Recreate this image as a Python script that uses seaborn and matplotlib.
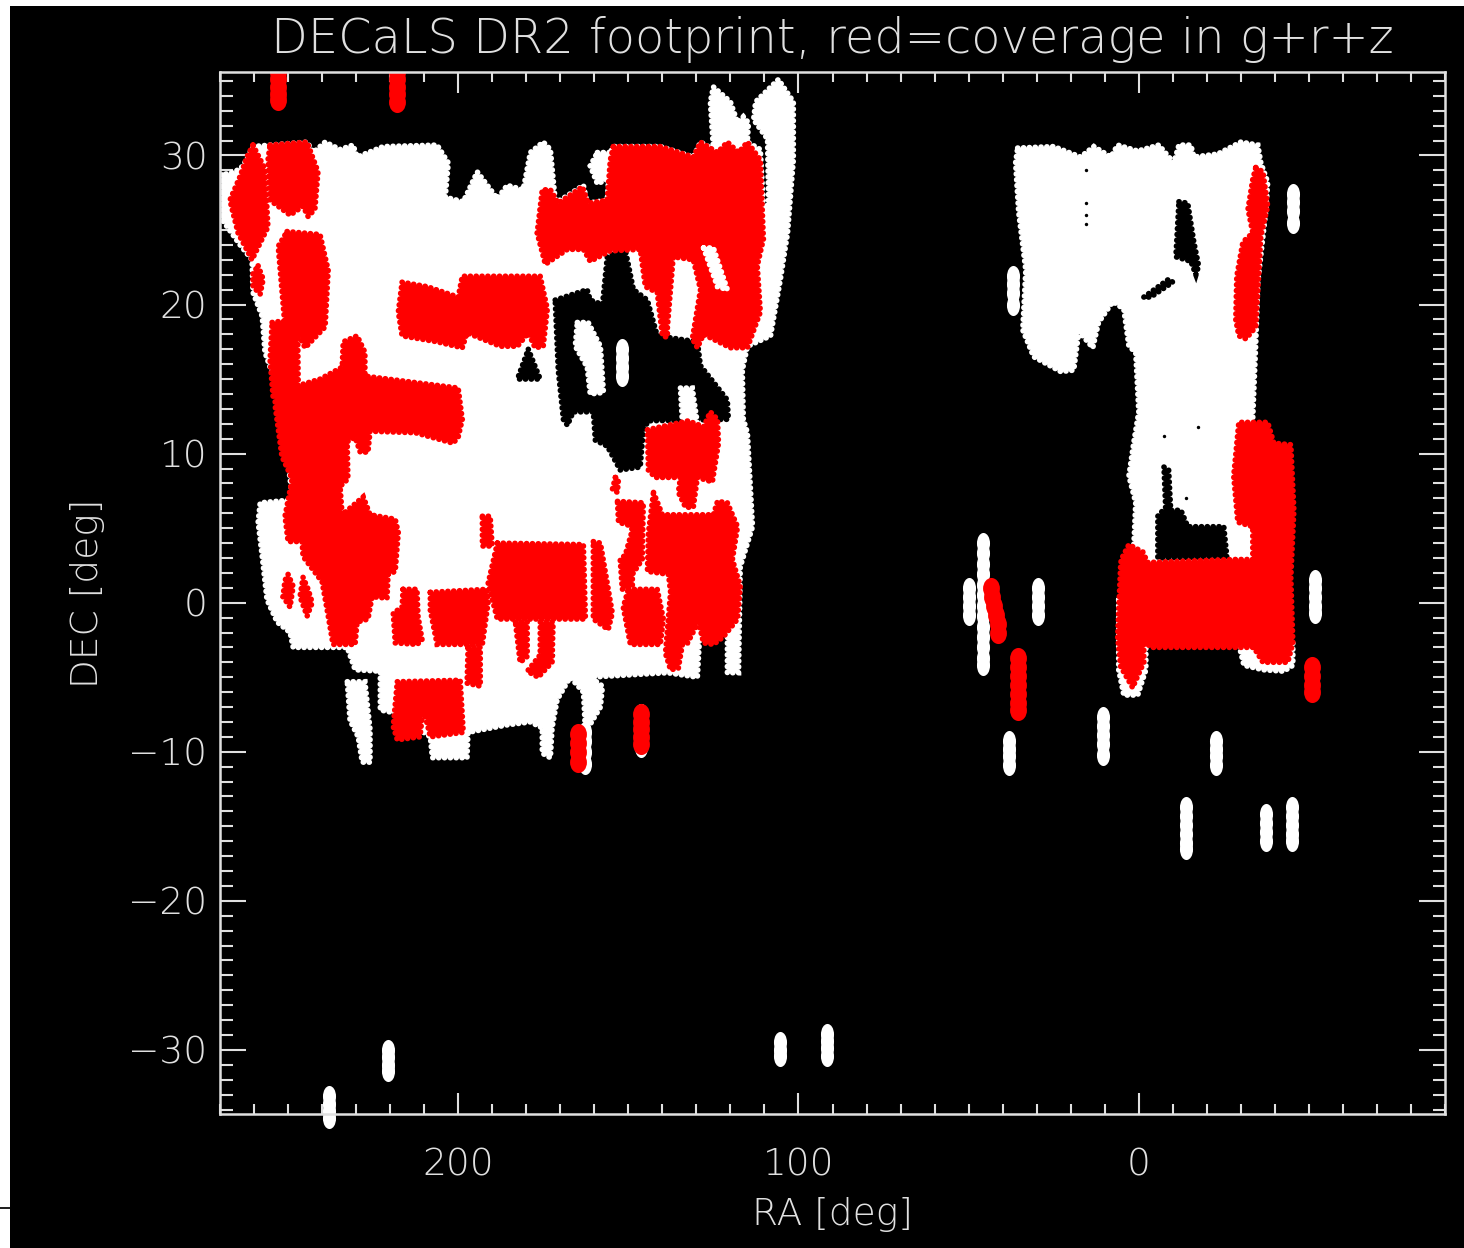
import matplotlib
matplotlib.use("Agg")
import matplotlib.pyplot as plt
import seaborn as sns
from matplotlib.patches import Rectangle
from matplotlib.path import Path
from matplotlib.transforms import Affine2D
from matplotlib.ticker import MultipleLocator

# ---------- footprint outlines: (RA, DEC) in degrees ----------
white_main = [(269.4,28.7),(269.4,25.7),(264.1,24.0),(260.6,23.0),(260.3,20.8),(257.6,19.2),(256.8,16.8),(254.4,15.2),
 (252.4,13.6),(249.4,8.3),(248.8,6.9),(258.2,6.7),(258.8,5.4),(257.6,3.1),(256.2,0.2),(253.2,-1.3),(249.4,-2.0),(248.5,-3.0),
 (232.6,-3.0),(230.3,-4.5),(222.9,-4.6),(222.9,-7.2),(218.5,-7.4),(208.2,-9.0),(207.6,-10.4),(197.4,-10.4),(197.1,-8.7),
 (185.6,-8.2),(178.8,-8.0),(175.3,-8.4),(175.3,-10.1),(172.9,-10.4),(172.4,-8.4),(170.9,-6.5),(167.1,-5.0),(163.2,-6.0),
 (162.6,-8.7),(158.2,-7.0),(157.6,-5.6),(161.2,-5.0),(138.5,-4.7),(129.7,-5.0),(128.8,-1.3),(120.9,-1.1),(120.9,-4.7),
 (117.6,-4.7),(117.1,2.4),(113.5,5.1),(115.0,11.4),(116.2,12.3),(116.5,15.6),(115.0,17.2),(108.2,17.9),(105.3,21.7),
 (103.2,24.8),(101.5,29.7),(101.5,33.6),(105.9,35.1),(112.6,33.6),(113.2,32.4),(109.1,31.1),(108.8,26.7),(110.3,26.5),
 (111.2,30.4),(115.0,30.9),(114.7,32.2),(116.2,32.6),(117.9,32.2),(120.0,33.6),(125.0,34.6),(125.9,33.6),(125.0,30.4),
 (128.8,30.9),(130.9,29.9),(140.6,30.6),(154.4,30.6),(155.3,30.2),(156.2,27.0),(162.1,26.8),(163.2,28.0),(170.0,27.0),
 (171.5,27.0),(172.9,30.4),(175.0,30.9),(178.8,30.2),(180.9,27.7),(185.6,28.0),(188.5,27.1),(194.4,28.9),(198.5,26.9),
 (203.8,27.2),(202.9,29.5),(206.2,30.7),(222.0,30.6),(229.7,29.9),(230.9,30.7),(234.7,30.4),(239.1,30.9),(242.6,30.2),
 (244.4,30.9),(255.3,30.7),(260.3,30.6),(263.2,29.3),(265.6,28.9)]
white_east = [(35.6,30.5),(25.0,30.6),(17.1,29.9),(13.2,30.6),(8.2,29.9),(6.2,30.7),(0.3,30.3),(-5.9,30.7),(-10.3,29.5),
 (-11.8,30.7),(-15.3,30.7),(-16.2,29.9),(-23.2,30.1),(-30.0,30.9),(-35.0,30.7),(-35.9,29.5),(-37.9,28.2),(-37.4,26.4),
 (-35.0,21.5),(-34.4,17.4),(-33.5,12.3),(-33.5,2.2),(1.5,2.2),(1.5,3.6),(0.9,6.7),(2.9,8.5),(1.5,10.7),(0.0,12.8),(0.9,16.8),
 (2.9,17.2),(4.4,19.7),(7.6,20.2),(11.8,18.8),(13.5,17.1),(17.6,18.2),(19.1,15.6),(22.9,15.5),(30.9,16.5),(34.1,18.3),
 (33.2,22.3),(35.3,26.2),(36.2,29.5)]
white_lobe_a = [(5.9,0.2),(-2.1,0.2),(-2.1,-4.5),(0.3,-6.2),(4.4,-6.2),(5.9,-4.5)]
white_lobe_b = [(-29.1,-2.5),(-45.3,-2.5),(-45.3,-4.2),(-42.6,-4.6),(-36.5,-4.5),(-30.9,-4.2)]
white_lobe_c = [(232.6,-5.3),(227.4,-5.3),(225.9,-8.5),(225.9,-10.7),(228.2,-10.7),(229.4,-9.0),(231.8,-7.9)]

hole_central = [(171.5,20.3),(162.1,21.0),(161.2,20.3),(157.6,20.0),(156.2,23.2),(150.9,23.7),(148.5,21.0),(144.4,20.3),
 (141.5,17.9),(129.7,17.5),(128.8,15.9),(125.0,14.8),(120.9,13.6),(120.6,12.3),(144.1,12.2),(145.6,11.6),(146.5,9.1),
 (152.4,8.9),(156.2,10.5),(159.7,10.9),(160.3,12.8),(166.2,12.8),(167.9,11.9),(169.1,12.3),(170.6,15.6)]
hole_triangle = [(179.4,17.0),(175.9,15.0),(182.6,15.0)]
hole_east_low = [(-7.4,9.1),(-8.8,8.9),(-9.4,6.2),(-12.4,6.2),(-14.4,5.1),(-25.0,5.1),(-25.9,3.1),(-5.6,3.0),(-5.6,5.8),(-7.9,6.4)]
hole_east_slit = [(-11.8,26.9),(-14.4,26.8),(-16.2,24.2),(-17.6,22.6),(-16.8,22.0),(-15.3,22.9),(-10.9,23.2)]
hole_east_sliver = [(-1.5,20.5),(-8.8,21.7),(-10.0,21.5),(-3.5,20.5)]

island_a = [(165.0,18.8),(161.8,18.8),(158.2,17.2),(157.3,14.1),(161.2,14.0),(162.1,15.8),(165.6,17.2)]
island_b = [(134.7,14.4),(131.2,14.4),(129.7,12.0),(134.1,12.0)]
island_c = [(159.1,30.2),(155.3,30.2),(156.2,28.4),(159.1,28.1),(161.2,29.3)]

red_01 = [(260.3,30.7),(256.8,29.1),(255.9,25.2),(260.6,23.0),(264.7,24.8),(267.1,27.0),(264.1,28.6),(262.1,29.9)]
red_02 = [(255.3,30.7),(244.4,30.9),(241.2,28.9),(242.1,26.4),(244.1,25.9),(245.6,26.6),(249.4,26.0),(255.3,27.0),(255.9,29.7)]
red_03 = [(250.3,24.9),(240.6,24.7),(238.2,22.3),(239.1,18.5),(245.0,17.1),(247.1,18.1),(250.9,18.5),(252.9,23.9)]
red_04 = [(258.8,22.6),(257.3,21.7),(258.2,20.7),(260.3,21.2),(260.3,22.1)]
red_05 = [(254.7,18.8),(251.5,18.9),(247.1,17.9),(247.1,16.8),(247.0,14.5),(254.4,13.8),(255.3,16.3)]
red_06 = [(253.8,14.1),(240.6,15.0),(234.1,15.8),(233.8,17.5),(229.7,17.9),(227.4,16.8),(227.4,15.2),(200.0,14.4),(198.8,12.3),
 (200.0,11.1),(201.5,10.7),(212.6,11.4),(225.9,11.5),(226.5,10.1),(228.8,10.1),(230.3,11.1),(232.6,10.8),(232.4,8.3),(234.7,7.8),
 (234.1,5.9),(227.9,7.1),(225.9,5.9),(218.5,5.6),(217.6,4.7),(218.5,2.1),(220.6,1.9),(220.9,0.3),(225.3,0.4),(226.5,-1.1),
 (229.7,-1.3),(230.3,-2.8),(236.8,-2.8),(238.2,-0.9),(240.0,1.4),(245.6,3.1),(245.9,4.1),(250.0,4.1),(250.9,5.8),(248.8,8.3),
 (251.8,9.8),(253.8,13.2)]
red_07 = [(250.0,1.9),(248.5,1.1),(249.4,-0.3),(251.5,0.4),(250.9,1.5)]
red_08 = [(245.6,1.7),(244.1,0.9),(242.9,0.0),(244.4,-0.9),(246.5,0.4)]
red_09 = [(216.2,0.9),(212.1,0.9),(211.8,-0.9),(210.6,-2.5),(212.1,-2.8),(218.5,-2.7),(219.1,-0.7),(216.5,-0.3)]
red_10 = [(208.2,0.7),(191.5,0.9),(191.2,0.0),(192.9,-2.8),(206.2,-2.8),(208.2,-0.5)]
red_11 = [(188.5,4.0),(163.2,3.9),(162.6,-1.1),(188.5,-1.1),(191.2,1.3)]
red_12 = [(192.9,5.8),(190.6,5.8),(190.0,3.8),(192.9,3.8)]
red_13 = [(183.2,-1.3),(179.7,-1.3),(179.7,-3.6),(181.8,-4.0)]
red_14 = [(175.9,-1.3),(172.1,-1.3),(172.4,-4.0),(176.5,-5.0),(179.7,-4.6),(175.9,-3.5)]
red_15 = [(197.1,-3.0),(193.5,-3.0),(193.5,-5.6),(197.4,-5.4)]
red_16 = [(217.9,-5.3),(199.4,-5.2),(198.5,-8.7),(208.2,-9.0),(210.3,-7.0),(211.2,-9.0),(217.9,-9.2),(219.1,-8.3)]
red_17 = [(160.3,4.1),(158.2,4.0),(154.7,-0.7),(155.9,-1.8),(160.3,-1.1)]
red_18 = [(153.8,8.4),(152.9,8.3),(153.2,7.4),(154.7,7.6)]
red_19 = [(153.2,6.8),(145.6,6.7),(145.9,2.9),(148.8,1.9),(148.8,1.1),(151.8,0.9),(152.4,2.9),(150.9,3.2),(148.8,4.9),(150.0,5.2),(152.9,5.4)]
red_20 = [(150.0,0.9),(141.5,0.9),(139.7,-1.1),(140.6,-2.8),(149.4,-2.8),(151.5,-0.3)]
red_21 = [(142.6,7.4),(140.0,5.9),(125.0,5.9),(123.8,6.8),(120.9,6.7),(117.9,5.1),(119.4,2.9),(117.1,1.1),(117.9,-1.1),(122.1,-2.3),
 (125.0,-2.8),(127.9,-2.7),(129.4,-1.3),(132.6,-2.7),(134.1,-2.8),(135.3,-4.4),(137.6,-4.5),(139.1,-3.4),(137.6,0.7),(138.2,1.9),
 (144.4,2.1),(144.1,4.7)]
red_22 = [(144.4,11.6),(132.4,12.2),(127.9,11.8),(125.9,12.8),(123.8,12.3),(123.5,10.7),(125.3,8.1),(129.7,8.4),(130.9,6.4),(133.2,6.4),
 (135.3,7.4),(134.7,8.4),(142.1,8.4),(144.1,8.9)]
red_23 = [(154.4,30.6),(140.6,30.6),(130.9,29.9),(128.8,30.9),(123.8,30.2),(120.9,30.9),(117.6,30.2),(115.0,30.9),(111.2,29.7),(110.3,24.4),
 (112.1,22.6),(111.2,19.5),(115.0,17.1),(120.0,17.1),(127.9,18.0),(129.7,17.1),(131.2,17.7),(128.8,21.0),(130.9,23.0),(136.8,23.2),
 (138.5,18.5),(138.5,17.8),(140.0,17.9),(141.5,20.8),(145.0,21.2),(146.5,23.7),(155.3,23.6),(161.2,22.9),(163.2,23.7),(167.9,23.7),
 (174.4,22.7),(176.8,24.8),(175.3,27.7),(172.9,27.7),(170.6,26.8),(163.5,27.9),(161.8,26.8),(156.2,27.0),(155.3,29.7)]
red_24 = [(216.5,21.5),(209.1,21.2),(200.0,20.5),(198.8,21.9),(185.3,21.9),(175.9,21.9),(173.8,19.7),(175.0,17.2),(177.4,17.1),(179.4,18.1),
 (182.6,17.2),(187.6,17.2),(197.4,18.1),(198.8,17.1),(206.2,17.5),(216.5,17.9),(217.6,19.5)]
red_east_a = [(-34.4,29.2),(-36.5,28.9),(-37.9,26.6),(-35.9,24.6),(-34.4,18.5),(-31.5,17.7),(-29.4,17.9),(-28.5,19.0),(-28.8,21.9),
 (-30.6,24.2),(-33.5,24.8),(-32.1,26.4),(-33.5,28.4)]
red_east_b = [(4.7,3.1),(2.9,3.9),(-1.2,3.4),(-2.6,2.7),(-27.9,2.9),(-33.5,2.9),(-33.5,5.1),(-29.1,5.4),(-27.9,8.5),(-29.4,12.1),(-37.9,12.1),
 (-39.7,10.7),(-44.7,10.6),(-45.6,6.2),(-44.7,1.7),(-45.3,-2.7),(-43.8,-4.0),(-36.5,-4.0),(-33.8,-3.0),(-3.5,-3.0),(-1.5,-2.5),(-1.5,-4.0),
 (1.8,-5.7),(5.3,-4.3),(6.2,-2.3),(5.3,2.7)]
white_streak = [(127.9,23.8),(125.0,23.8),(120.9,21.0),(123.8,21.2)]

white_regions = [white_main, white_east, white_lobe_a, white_lobe_b, white_lobe_c]
hole_regions = [hole_central, hole_triangle, hole_east_low, hole_east_slit, hole_east_sliver]
island_regions = [island_a, island_b, island_c]
red_regions = [red_01, red_02, red_03, red_04, red_05, red_06, red_07, red_08, red_09, red_10, red_11, red_12, red_13, red_14,
               red_15, red_16, red_17, red_18, red_19, red_20, red_21, red_22, red_23, red_24, red_east_a, red_east_b]

# ---------- isolated exposures ----------
white_tile_ra = [220.6]*4 + [238.0]*4 + [105.3]*3 + [91.5]*4 + [50.0]*4 + [29.7]*4 + [45.9]*13 + [38.2]*4 + [10.6]*5 + [-22.6]*4 \
    + [-13.8]*6 + [-37.4]*4 + [-45.0]*5 + [-51.8]*5 + [-45.3]*4 + [37.0]*4 + [151.8]*4 + [162.6]*4 + [146.2]*5
white_tile_dec = [-30,-30.5,-31,-31.4, -33.1,-33.6,-34.1,-34.6, -29.5,-30,-30.4, -28.9,-29.4,-29.9,-30.4, 1.0,0.4,-0.2,-0.8, 1.0,0.4,-0.2,-0.8,
    4.0,3.3,2.6,1.9,1.2,0.5,-0.2,-0.9,-1.6,-2.3,-3.0,-3.7,-4.2, -9.3,-9.8,-10.3,-10.9, -7.7,-8.3,-8.9,-9.5,-10.2, -9.3,-9.8,-10.3,-10.9,
    -13.7,-14.3,-14.9,-15.5,-16.1,-16.5, -14.2,-14.8,-15.4,-16.0, -13.7,-14.3,-14.9,-15.5,-16.0, 1.5,1.0,0.4,-0.2,-0.7,
    27.4,26.9,26.3,25.5, 21.9,21.4,20.8,20.0, 17.0,16.4,15.8,15.2, -8.7,-9.3,-10.0,-10.8, -7.5,-8.0,-8.5,-9.0,-9.7]
red_tile_ra = [253.0]*5 + [218.0]*5 + [43.5,43.0,42.5,42.0,41.5,41.3] + [35.6]*7 + [-50.9]*4 + [146.2]*5 + [164.7]*4
red_tile_dec = [35.6,35.1,34.6,34.1,33.7, 35.6,35.1,34.6,34.1,33.6, 1.0,0.4,-0.2,-0.8,-1.4,-2.0, -3.7,-4.3,-4.9,-5.5,-6.1,-6.7,-7.2,
    -4.3,-4.9,-5.5,-6.0, -7.5,-8.0,-8.5,-9.0,-9.5, -8.8,-9.4,-10.0,-10.7]
speck_ra = [-7.4, -17.4, 15.6, 15.6, 15.6, 15.6, -7.9, -14.0, 172.0, 131.0, 154.0]
speck_dec = [11.2, 11.8, 29.0, 26.8, 26.0, 25.4, 7.5, 7.0, -3.5, 8.0, 8.0]

x_major = [200, 100, 0]
y_major = [-30, -20, -10, 0, 10, 20, 30]
title_text = "DECaLS DR2 footprint, red=coverage in g+r+z"
x_text = "RA [deg]"
y_text = "DEC [deg]"

# ---------- figure ----------
sns.set_theme(style="dark", rc={"axes.facecolor": "black", "figure.facecolor": "black"})
plt.rcParams["font.family"] = ["DejaVu Sans"]
INK = "#e0e0e0"
W, H = 1464, 1248
fig = plt.figure(figsize=(W / 100, H / 100), dpi=100, facecolor="black")
ax = fig.add_axes([220 / W, 1 - 1114 / H, (1445 - 220) / W, (1114 - 72) / H])
ax.set_facecolor("black")

white_marker = Path.unit_circle().transformed(Affine2D().scale(0.62, 1.0))
red_marker = Path.unit_circle().transformed(Affine2D().scale(0.8, 1.0))


def draw(regions, color, z):
    for reg in regions:
        ras = [p[0] for p in reg]
        decs = [p[1] for p in reg]
        ax.fill(ras, decs, facecolor=color, edgecolor="none", zorder=z)
        ax.fill(ras, decs, facecolor="none", edgecolor=color, linewidth=4.0,
                linestyle=(0, (0.05, 1.0)), capstyle="round", zorder=z)


draw(white_regions, "white", 2)
draw(hole_regions, "black", 3)
draw(island_regions, "white", 4)
sns.scatterplot(x=white_tile_ra, y=white_tile_dec, color="white", s=230, marker=white_marker, linewidth=0,
                ax=ax, zorder=4, legend=False, clip_on=False)
sns.scatterplot(x=speck_ra, y=speck_dec, color="black", s=6, linewidth=0, ax=ax, zorder=4.5, legend=False)
draw(red_regions, "#ff0000", 5)
sns.scatterplot(x=red_tile_ra, y=red_tile_dec, color="#ff0000", s=230, marker=red_marker, linewidth=0, ax=ax, zorder=5, legend=False)
draw([white_streak], "white", 6)

ax.set_xlim(270, -90)
ax.set_ylim(-34.3, 35.6)
ax.set_xticks(x_major)
ax.set_yticks(y_major)
ax.set_yticklabels([str(v).replace("-", "\u2212") for v in y_major])
ax.xaxis.set_minor_locator(MultipleLocator(10))
ax.yaxis.set_minor_locator(MultipleLocator(1))
ax.grid(False)
ax.tick_params(axis="x", which="major", direction="in", length=15, width=1.5, color=INK, top=True, bottom=True,
               labelcolor=INK, labelsize=27, pad=24)
ax.tick_params(axis="x", which="minor", direction="in", length=7.5, width=1.5, color=INK, top=True, bottom=True)
ax.tick_params(axis="y", which="major", direction="in", length=19, width=1.5, color=INK, left=True, right=True,
               labelcolor=INK, labelsize=27, pad=9)
ax.tick_params(axis="y", which="minor", direction="in", length=9, width=1.5, color=INK, left=True, right=True)
for lab in ax.get_xticklabels() + ax.get_yticklabels():
    lab.set_fontweight("light")
for sp in ax.spines.values():
    sp.set_visible(True)
    sp.set_color(INK)
    sp.set_linewidth(1.8)
    sp.set_zorder(10)

ax.set_title(title_text, color=INK, fontsize=34.5, fontweight="light", pad=14)
ax.set_xlabel(x_text, color=INK, fontsize=27, fontweight="light", labelpad=10.5)
ax.set_ylabel(y_text, color=INK, fontsize=27, fontweight="light", labelpad=17)

# page edge visible on the left and top of the screenshot
fig.add_artist(Rectangle((0, 0), 10 / W, 1, transform=fig.transFigure, facecolor="white", edgecolor="none"))
fig.add_artist(Rectangle((0, 1 - 6 / H), 1, 6 / H, transform=fig.transFigure, facecolor="white", edgecolor="none"))
fig.add_artist(Rectangle((0, 1 - 1209 / H), 10 / W, 2 / H, transform=fig.transFigure, facecolor="#222222", edgecolor="none"))

fig.savefig("out.png", dpi=100, facecolor="black")
